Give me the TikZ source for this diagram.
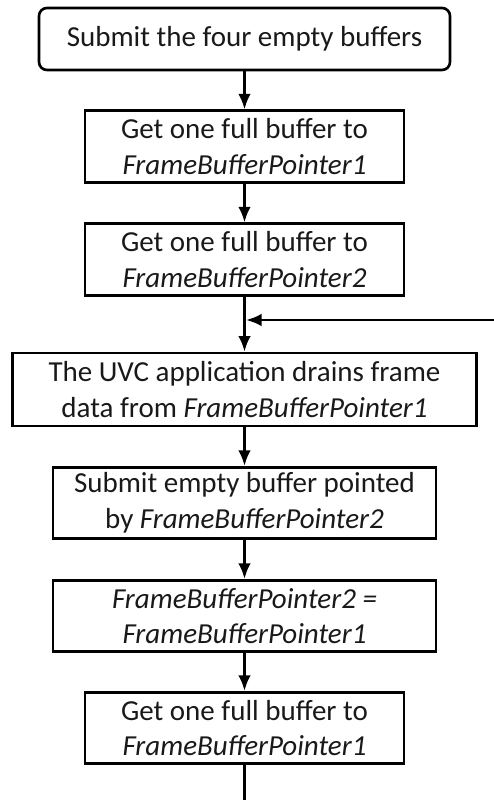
\documentclass[tikz,border=0pt]{standalone}
\usepackage{fontspec}
\setmainfont{Carlito}
\usetikzlibrary{arrows.meta}

\tikzset{
  ->/.style={draw=black,line width=1.5pt,-{Latex[length=3.1mm,width=2.5mm]}},
  stepbox/.style={draw=black,line width=1.5pt,align=center,minimum height=1.43cm,inner sep=1pt},
  startbox/.style={stepbox,rounded corners=0.16cm,minimum height=1.24cm}
}
\tikzstyle{every node}=[color=black!90,font=\fontsize{16.5}{20.2}\selectfont]

\begin{document}
\begin{tikzpicture}
    \useasboundingbox (0,0) rectangle (9.88,16);
    \node [startbox,minimum width=8.22cm] (submit) at (4.89,15.22) {Submit the four empty buffers};
    \node [stepbox,minimum width=6.38cm] (get1) at (4.89,13.07) {Get one full buffer to\\\textit{FrameBufferPointer1}};
    \node [stepbox,minimum width=6.38cm] (get2) at (4.89,10.81) {Get one full buffer to\\\textit{FrameBufferPointer2}};
    \node [stepbox,minimum width=9.28cm,minimum height=1.46cm] (drain) at (4.89,8.21) {The UVC application drains frame\\data from \textit{FrameBufferPointer1}};
    \node [stepbox,minimum width=7.66cm] (submit2) at (4.89,5.94) {Submit empty buffer pointed\\by \textit{FrameBufferPointer2}};
    \node [stepbox,minimum width=7.66cm] (swap) at (4.89,3.68) {\textit{FrameBufferPointer2 =}\\\textit{FrameBufferPointer1}};
    \node [stepbox,minimum width=6.38cm] (get3) at (4.89,1.44) {Get one full buffer to\\\textit{FrameBufferPointer1}};
    \coordinate (join) at (4.92,9.6);
    \coordinate (loop) at (9.88,9.6);
    \coordinate (out) at (4.89,0);
    \draw [->] (submit) -- (get1);
    \draw [->] (get1) -- (get2);
    \draw [->] (get2) -- (drain);
    \draw [->] (loop) -- (join);
    \draw [->] (drain) -- (submit2);
    \draw [->] (submit2) -- (swap);
    \draw [->] (swap) -- (get3);
    \draw [line width=1.5pt] (get3) -- (out);
\end{tikzpicture}
\end{document}
